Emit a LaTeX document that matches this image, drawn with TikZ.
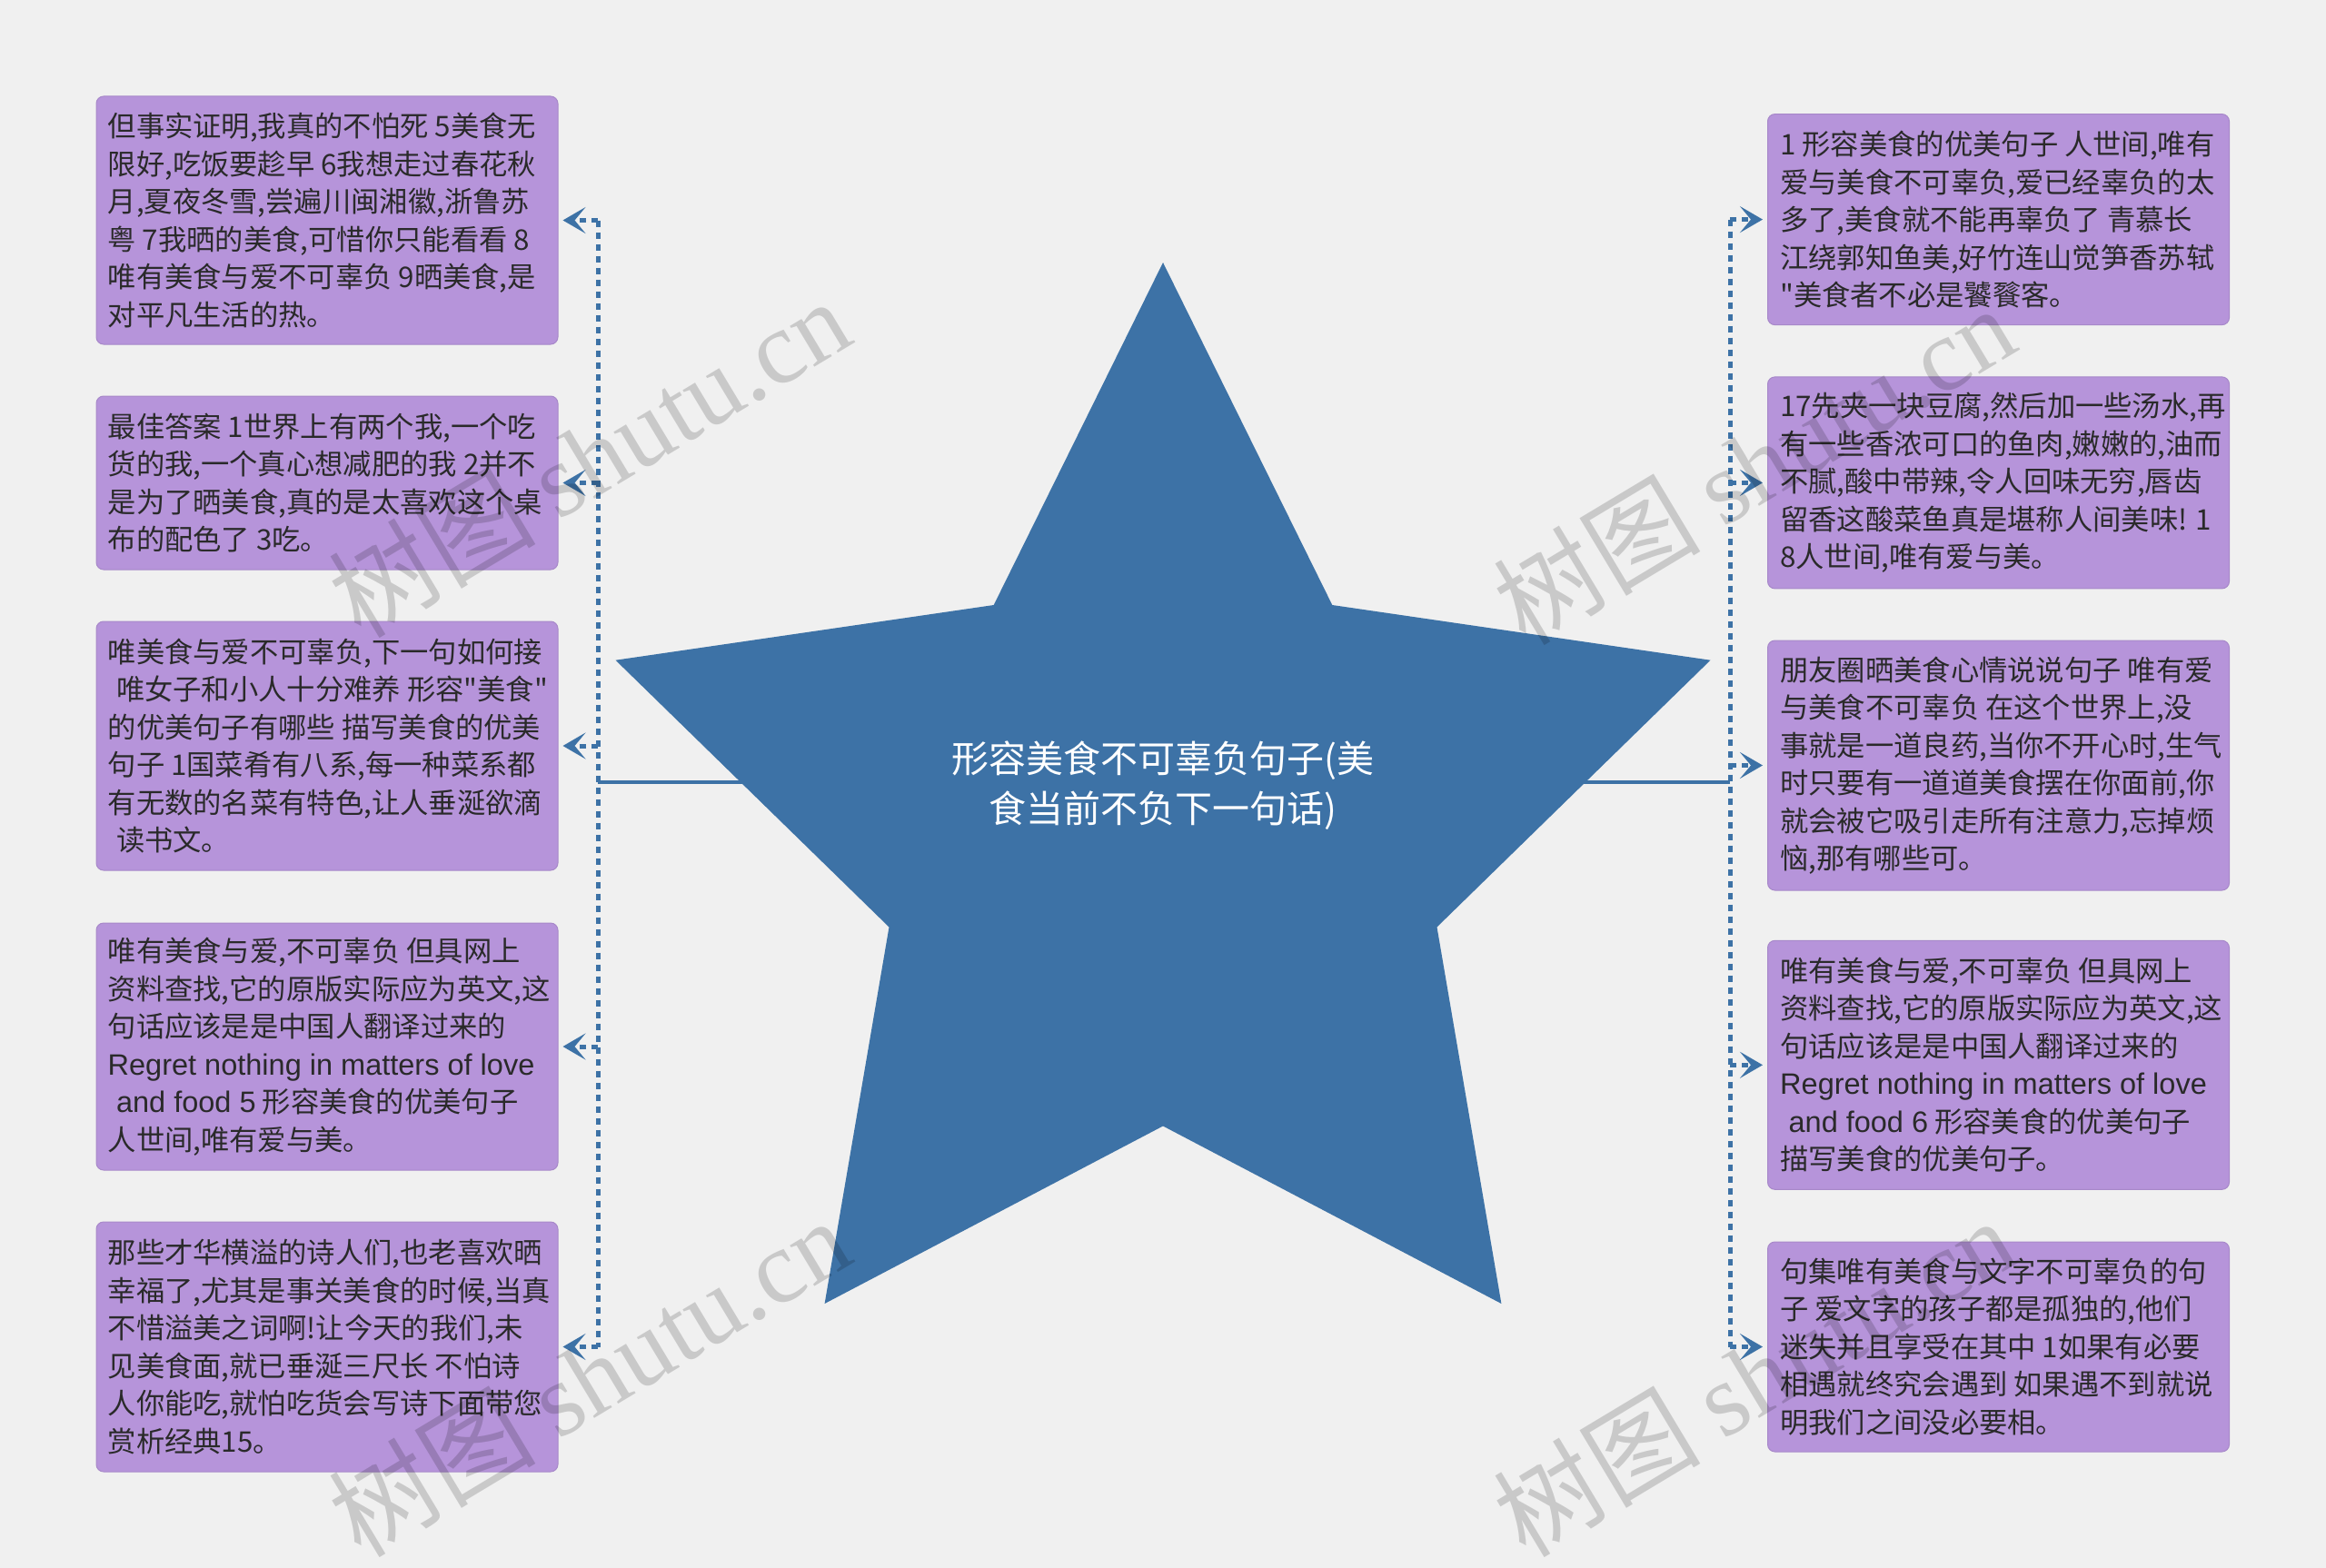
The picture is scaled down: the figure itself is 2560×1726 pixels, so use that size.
\documentclass[tikz,border=0pt]{standalone}
\usepackage{fontspec}
\setmainfont{Noto Sans CJK SC}[Ligatures=TeXOff]
\newfontfamily\wmserif{Liberation Serif}
\newfontfamily\latsans{Liberation Sans}[Ligatures=TeXOff]
\newcommand\lat[1]{{\latsans\fontsize{32.5}{41.5}\selectfont #1}}
\usetikzlibrary{arrows.meta}
\definecolor{bgcol}{HTML}{F0F0F0}
\definecolor{starblue}{HTML}{3D72A6}
\definecolor{boxpurple}{HTML}{B694DA}
\definecolor{txtcol}{HTML}{2A2A2A}
\begin{document}
\begin{tikzpicture}[x=1pt,y=-1pt,
  box/.style={draw=boxpurple!92!black, line width=1pt, fill=boxpurple, rounded corners=8pt, minimum width=508pt, inner sep=0pt},
  boxtext/.style={anchor=west, align=left, text=txtcol, inner sep=0pt, font=\fontsize{31.3}{41.5}\selectfont},
  dotline/.style={draw=starblue, line width=5pt, dash pattern=on 7pt off 6pt},
  branch/.style={dotline, -{Stealth[length=25pt,width=29pt,inset=12pt]}, shorten >=5pt},
  trunkline/.style={draw=starblue, line width=4.5pt},
  titletext/.style={align=center, text=white, inner sep=0pt, font=\fontsize{41}{55}\selectfont},
  wm/.style={text=black, opacity=0.16, rotate=31, inner sep=0pt, font=\fontsize{114}{114}\selectfont}
]
\useasboundingbox (0,0) rectangle (2560,1726);
\fill[bgcol] (0,0) rectangle (2560,1726);

% boxes left
\node[box, minimum height=273pt] (L1) at (360,242.5) {};
\node[box, minimum height=191pt] (L2) at (360,531.5) {};
\node[box, minimum height=274pt] (L3) at (360,821) {};
\node[box, minimum height=272pt] (L4) at (360,1152) {};
\node[box, minimum height=275pt] (L5) at (360,1482.5) {};
% boxes right
\node[box, minimum height=232pt] (R1) at (2199.5,241.6) {};
\node[box, minimum height=233pt] (R2) at (2199.5,531.4) {};
\node[box, minimum height=275pt] (R3) at (2199.5,842.5) {};
\node[box, minimum height=274pt] (R4) at (2199.5,1172.3) {};
\node[box, minimum height=231pt] (R5) at (2199.5,1482.5) {};

% texts
\node[boxtext] (tL1) at ([xshift=13pt]L1.west) {但事实证明,我真的不怕死 5美食无\\限好,吃饭要趁早 6我想走过春花秋\\月,夏夜冬雪,尝遍川闽湘徽,浙鲁苏\\粤 7我晒的美食,可惜你只能看看 8\\唯有美食与爱不可辜负 9晒美食,是\\对平凡生活的热。};
\node[boxtext] (tL2) at ([xshift=13pt]L2.west) {最佳答案 1世界上有两个我,一个吃\\货的我,一个真心想减肥的我 2并不\\是为了晒美食,真的是太喜欢这个桌\\布的配色了 3吃。};
\node[boxtext] (tL3) at ([xshift=13pt]L3.west) {唯美食与爱不可辜负,下一句如何接\\\hspace*{0.3em}唯女子和小人十分难养 形容"美食"\\的优美句子有哪些 描写美食的优美\\句子 1国菜肴有八系,每一种菜系都\\有无数的名菜有特色,让人垂涎欲滴\\\hspace*{0.3em}读书文。};
\node[boxtext] (tL4) at ([xshift=13pt]L4.west) {唯有美食与爱,不可辜负 但具网上\\资料查找,它的原版实际应为英文,这\\句话应该是是中国人翻译过来的\\\lat{Regret nothing in matters of love}\\\hspace*{0.3em}\lat{and food 5} 形容美食的优美句子\\人世间,唯有爱与美。};
\node[boxtext] (tL5) at ([xshift=13pt]L5.west) {那些才华横溢的诗人们,也老喜欢晒\\幸福了,尤其是事关美食的时候,当真\\不惜溢美之词啊!让今天的我们,未\\见美食面,就已垂涎三尺长 不怕诗\\人你能吃,就怕吃货会写诗下面带您\\赏析经典15。};
\node[boxtext] (tR1) at ([xshift=14pt]R1.west) {1 形容美食的优美句子 人世间,唯有\\爱与美食不可辜负,爱已经辜负的太\\多了,美食就不能再辜负了 青慕长\\江绕郭知鱼美,好竹连山觉笋香苏轼\\"美食者不必是饕餮客。};
\node[boxtext] (tR2) at ([xshift=14pt]R2.west) {17先夹一块豆腐,然后加一些汤水,再\\有一些香浓可口的鱼肉,嫩嫩的,油而\\不腻,酸中带辣,令人回味无穷,唇齿\\留香这酸菜鱼真是堪称人间美味! 1\\8人世间,唯有爱与美。};
\node[boxtext] (tR3) at ([xshift=14pt]R3.west) {朋友圈晒美食心情说说句子 唯有爱\\与美食不可辜负 在这个世界上,没\\事就是一道良药,当你不开心时,生气\\时只要有一道道美食摆在你面前,你\\就会被它吸引走所有注意力,忘掉烦\\恼,那有哪些可。};
\node[boxtext] (tR4) at ([xshift=14pt]R4.west) {唯有美食与爱,不可辜负 但具网上\\资料查找,它的原版实际应为英文,这\\句话应该是是中国人翻译过来的\\\lat{Regret nothing in matters of love}\\\hspace*{0.3em}\lat{and food 6} 形容美食的优美句子\\描写美食的优美句子。};
\node[boxtext] (tR5) at ([xshift=14pt]R5.west) {句集唯有美食与文字不可辜负的句\\子 爱文字的孩子都是孤独的,他们\\迷失并且享受在其中 1如果有必要\\相遇就终究会遇到 如果遇不到就说\\明我们之间没必要相。};

% hub and trunks
\coordinate (hub) at (1280,861);
\coordinate (tl) at (658,861);
\coordinate (tr) at (1904,861);
\draw[trunkline] (hub) -- (tl);
\draw[trunkline] (hub) -- (tr);
\draw[dotline] (L1.east -| tl) -- (L5.east -| tl);
\draw[dotline] (R1.west -| tr) -- (R5.west -| tr);
\foreach \b in {L1,L2,L3,L4,L5}{
  \draw[branch] (\b.east -| tl) -- (\b.east);
}
\foreach \b in {R1,R2,R3,R4,R5}{
  \draw[branch] (\b.west -| tr) -- (\b.west);
}

% star
\fill[starblue] (1280,289) -- (1466.3,666) -- (1882.5,726.7) -- (1581.5,1020.5) -- (1652.4,1435) -- (1280,1239.5) -- (907.6,1435) -- (978.5,1020.5) -- (677.5,726.7) -- (1093.7,666) -- cycle;
\node[titletext] (title) at ([yshift=-4pt]hub) {形容美食不可辜负句子(美\\食当前不负下一句话)};

% watermarks
\node[wm] (w1) at (648,503) {树图 {\wmserif shutu.cn}};
\node[wm] (w2) at (1930,511) {树图 {\wmserif shutu.cn}};
\node[wm] (w3) at (648,1515) {树图 {\wmserif shutu.cn}};
\node[wm] (w4) at (1930,1515) {树图 {\wmserif shutu.cn}};
\end{tikzpicture}
\end{document}
